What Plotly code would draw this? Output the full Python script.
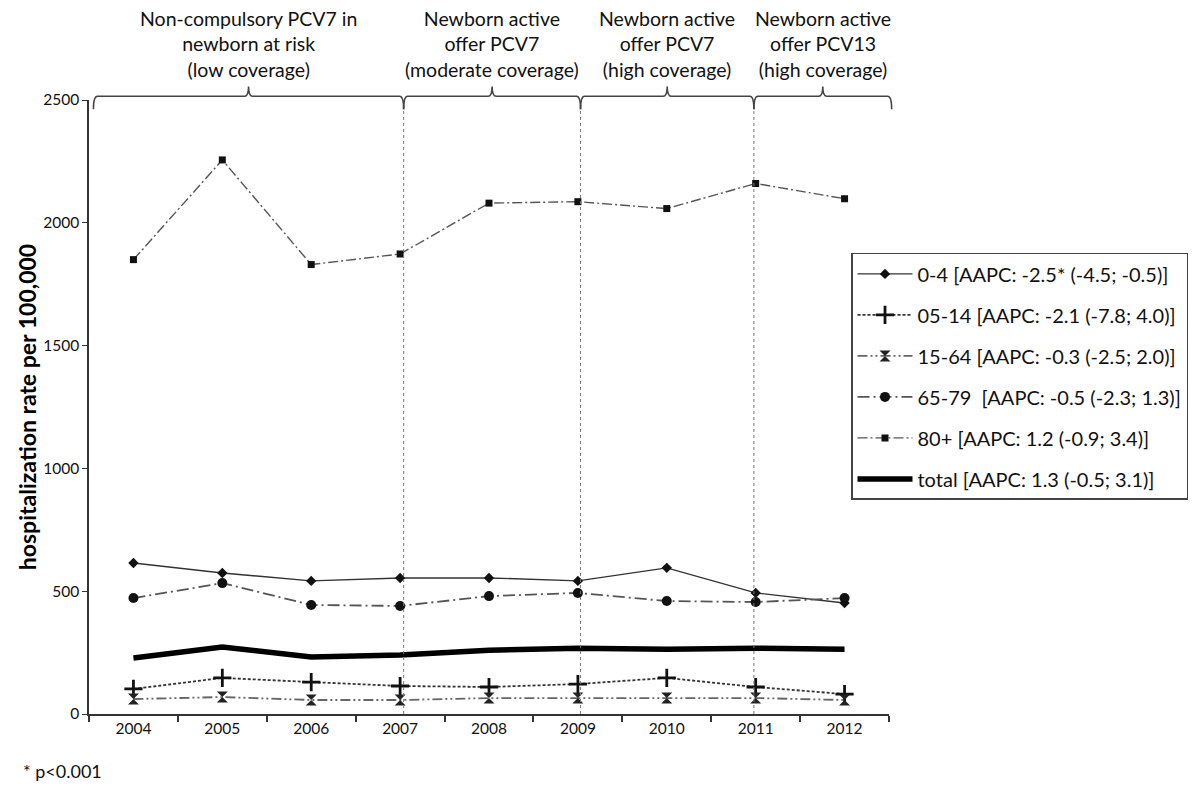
import plotly.graph_objects as go

years = [2004, 2005, 2006, 2007, 2008, 2009, 2010, 2011, 2012]

age_0_4 = [615, 574, 542, 554, 554, 542, 595, 493, 452]
age_05_14 = [102, 147, 130, 114, 110, 122, 147, 110, 81]
age_15_64 = [61, 69, 57, 57, 65, 65, 65, 65, 57]
age_65_79 = [472, 533, 444, 440, 480, 493, 460, 456, 472]
age_80p = [1850, 2256, 1830, 1873, 2080, 2086, 2058, 2160, 2098]
total = [228, 273, 232, 240, 260, 268, 264, 268, 264]

series_names = [
    "0-4 [AAPC: -2.5* (-4.5; -0.5)]",
    "05-14 [AAPC: -2.1 (-7.8; 4.0)]",
    "15-64 [AAPC: -0.3 (-2.5; 2.0)]",
    "65-79  [AAPC: -0.5 (-2.3; 1.3)]",
    "80+ [AAPC: 1.2 (-0.9; 3.4)]",
    "total [AAPC: 1.3 (-0.5; 3.1)]",
]

period_labels = [
    "Non-compulsory PCV7 in<br>newborn at risk<br>(low coverage)",
    "Newborn active<br>offer PCV7<br>(moderate coverage)",
    "Newborn active<br>offer PCV7<br>(high coverage)",
    "Newborn active<br>offer PCV13<br>(high coverage)",
]
# period boundaries (in year units on the x axis)
period_edges = [2003.55, 2007.04, 2009.03, 2010.98, 2012.53]

y_ticks = [0, 500, 1000, 1500, 2000, 2500]

FONT = "Lato"
X0, X1 = 2003.5, 2012.5
Y0, Y1 = 0, 2500

fig = go.Figure()

styles = [
    (age_0_4, dict(color="#333333", width=1.4, dash="solid"),
     dict(symbol="diamond", size=8, color="#111111")),
    (age_05_14, dict(color="#333333", width=1.8, dash="3px,2px"),
     dict(symbol="cross-thin", size=13, color="#111111", line=dict(width=2.8, color="#111111"))),
    (age_15_64, dict(color="#666666", width=1.8, dash="10px,3px,2px,3px,2px,3px"),
     dict(symbol="hourglass", size=11, color="#222222")),
    (age_65_79, dict(color="#555555", width=1.8, dash="12px,4px,2px,4px"),
     dict(symbol="circle", size=10, color="#111111")),
    (age_80p, dict(color="#555555", width=1.4, dash="10px,3px,2px,3px"),
     dict(symbol="square", size=7, color="#111111")),
]

for i, (vals, ln, mk) in enumerate(styles):
    fig.add_trace(go.Scatter(
        x=years, y=vals, mode="lines+markers", name=series_names[i],
        line=ln, marker=mk, legendgroup=f"g{i}", cliponaxis=False,
    ))

fig.add_trace(go.Scatter(
    x=years, y=total, mode="lines", name=series_names[5],
    line=dict(color="#000000", width=5.5), legendgroup="g5",
))

# vertical dotted period dividers
for xe in period_edges[1:-1]:
    fig.add_shape(type="line", xref="x", yref="y", x0=xe, x1=xe, y0=0, y1=2470,
                  line=dict(color="#777777", width=1, dash="dot"))

# braces drawn in paper coordinates
def px_x(xv):
    return (xv - X0) / (X1 - X0)

yt = 1.006   # horizontal line of brace
yb = 0.985   # ends
yc = 1.022   # cusp
rx = 0.005
for i in range(4):
    a = px_x(period_edges[i])
    b = px_x(period_edges[i + 1])
    m = (a + b) / 2
    path = (f"M {a},{yb} Q {a},{yt} {a+rx},{yt} L {m-rx},{yt} "
            f"Q {m},{yt} {m},{yc} Q {m},{yt} {m+rx},{yt} "
            f"L {b-rx},{yt} Q {b},{yt} {b},{yb}")
    fig.add_shape(type="path", xref="paper", yref="paper", path=path,
                  line=dict(color="#444444", width=1.6))
    fig.add_annotation(x=m, y=1.027, xref="paper", yref="paper", text=period_labels[i],
                       showarrow=False, yanchor="bottom", xanchor="center",
                       font=dict(family=FONT, size=19.5, color="#111111"))

fig.add_annotation(x=0, y=0, xref="paper", yref="paper", xshift=-68, yshift=-70,
                   text="* p<0.001", showarrow=False, xanchor="left", yanchor="bottom",
                   font=dict(family=FONT, size=18, color="#111111"))

# the page body adds an 8px offset; the figure is sized so the plot area
# lands where the reference's does
fig.update_layout(
    width=1192, height=778,
    margin=dict(l=81, r=311, t=92, b=72, autoexpand=False),
    plot_bgcolor="white", paper_bgcolor="white",
    font=dict(family=FONT, size=16, color="#111111"),
    showlegend=True,
    legend=dict(x=0.9525, y=0.751, xanchor="left", yanchor="top",
                bordercolor="#444444", borderwidth=1.5, bgcolor="white",
                font=dict(family=FONT, size=20, color="#111111"),
                tracegroupgap=12, itemwidth=55),
    xaxis=dict(range=[X0, X1], tickmode="array", tickvals=years, automargin=False,
               ticktext=[str(y) for y in years], showgrid=False, zeroline=False,
               showline=True, linecolor="#333333", linewidth=1.5,
               ticks="", tickfont=dict(family=FONT, size=15.5)),
    yaxis=dict(range=[Y0, Y1], tickvals=y_ticks, showgrid=False, zeroline=False,
               automargin=False,
               showline=True, linecolor="#333333", linewidth=1.5,
               ticks="outside", ticklen=5, tickcolor="#333333",
               tickfont=dict(family=FONT, size=15.5),
               title=dict(text="<b>hospitalization rate per 100,000</b>", standoff=0,
                          font=dict(family=FONT, size=23, color="#000000"))),
)

# x-axis boundary tick marks (between categories) via minor ticks
fig.update_xaxes(minor=dict(tickvals=[y + 0.5 for y in [2003] + years], ticks="outside",
                            ticklen=6, tickcolor="#333333", tickwidth=1.5))

fig.write_html("out.html")
